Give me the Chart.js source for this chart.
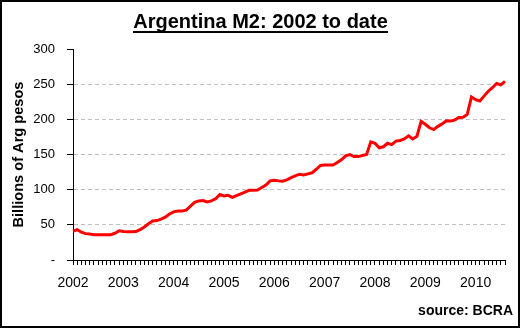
<!DOCTYPE html>
<html>
<head>
<meta charset="utf-8">
<script src="https://cdn.jsdelivr.net/npm/chart.js@4/dist/chart.umd.min.js"></script>
<style>
  html, body { margin: 0; padding: 0; background: #fff; }
  #wrap { width: 521px; height: 329px; }
</style>
</head>
<body>
<div id="wrap"><canvas id="c" width="521" height="329"></canvas></div>
<script>
// ---- data (monthly, Jan 2002 onwards), billions of Arg pesos ----
const startYear = 2002;
const m2Values = [
  41, 43, 39.5, 37.5, 37, 36, 36, 36, 36, 36, 38, 41.5,          // 2002
  40.5, 40, 40, 40.5, 43, 47, 51.5, 55.5, 56, 58, 61, 65.5,      // 2003
  68.5, 69.5, 69.5, 71, 76.5, 82, 84, 84.5, 82.5, 84, 87, 93,    // 2004
  91, 92, 89, 91.5, 94, 96.5, 99, 99, 99.5, 103, 106.5, 112.5,   // 2005
  113.5, 112.5, 112, 114, 117, 119.5, 122, 121, 122.5, 124, 129, 134.5, // 2006
  135, 135, 135, 138.5, 142.5, 148, 150, 147, 147, 148.5, 150, 168,     // 2007
  166, 159.5, 161, 166, 164, 169, 170, 172, 176.5, 172, 176, 197,       // 2008
  193, 188, 185.5, 190, 193.5, 198, 197.5, 199, 202.5, 203, 207, 232,   // 2009
  228, 226, 233, 240, 245, 251, 249, 254                                  // 2010
];
const yTickValues = [0, 50, 100, 150, 200, 250, 300];
const titleText = 'Argentina M2: 2002 to date';
const yAxisTitle = 'Billions of Arg pesos';
const sourceText = 'source: BCRA';

const monthLabels = m2Values.map((_, i) =>
  (startYear + Math.floor(i / 12)) + '-' + String(i % 12 + 1).padStart(2, '0'));

const FONT = "Arial, 'Liberation Sans', sans-serif";

const decorPlugin = {
  id: 'decor',
  afterDraw(chart) {
    const ctx = chart.ctx;
    ctx.save();
    // underline for title
    ctx.font = 'bold 20px ' + FONT;
    const w = ctx.measureText(titleText).width;
    const tb = chart.titleBlock;
    const cx = (tb.left + tb.right) / 2;
    ctx.fillStyle = '#000';
    ctx.fillRect(Math.round(cx - w / 2), 31, Math.round(w), 2);
    // source text
    ctx.font = 'bold 14px ' + FONT;
    ctx.textAlign = 'right';
    ctx.textBaseline = 'alphabetic';
    ctx.fillText(sourceText, 513, 315);
    // outer border
    ctx.strokeStyle = '#000';
    ctx.lineWidth = 2;
    ctx.strokeRect(1, 1, 518, 326);
    ctx.restore();
  }
};

new Chart(document.getElementById('c'), {
  type: 'line',
  data: {
    labels: monthLabels,
    datasets: [{
      data: m2Values,
      borderColor: '#FF0000',
      backgroundColor: '#FF0000',
      borderWidth: 3,
      pointRadius: 0,
      tension: 0,
      fill: false
    }]
  },
  options: {
    responsive: false,
    animation: false,
    devicePixelRatio: 1,
    layout: { padding: { left: 0, right: 0, top: 0, bottom: 0 } },
    plugins: {
      legend: { display: false },
      tooltip: { enabled: false },
      title: {
        display: true,
        text: titleText,
        color: '#000',
        font: { family: FONT, size: 20, weight: 'bold', lineHeight: 1.2 },
        padding: { top: 10, bottom: 15 }
      }
    },
    scales: {
      x: {
        type: 'category',
        offset: false,
        afterFit(scale) { scale.height = 69; },
        grid: {
          drawOnChartArea: false,
          drawTicks: true,
          tickLength: 5,
          tickColor: '#000',
          color: '#000',
          offset: false
        },
        border: { display: true, color: '#000', width: 1 },
        ticks: {
          autoSkip: false,
          maxRotation: 0,
          minRotation: 0,
          padding: 10,
          color: '#000',
          font: { family: FONT, size: 14 },
          callback(value) {
            const lab = this.getLabelForValue(value);
            return lab.endsWith('-01') ? lab.slice(0, 4) : '';
          }
        }
      },
      y: {
        min: 0,
        max: 300,
        afterFit(scale) { scale.width = 73; },
        afterBuildTicks(scale) { scale.ticks = yTickValues.map(v => ({ value: v })); },
        grid: {
          drawTicks: true,
          tickLength: 6,
          tickColor: '#000',
          color(ctx) {
            const v = ctx.tick && ctx.tick.value;
            return (v === 0 || v === 300) ? 'rgba(0,0,0,0)' : '#C0C0C0';
          }
        },
        border: { display: true, color: '#000', width: 1, dash: [4, 3] },
        ticks: {
          padding: 12,
          color: '#000',
          font: { family: FONT, size: 13 },
          callback(value) { return value === 0 ? '-' : String(value); }
        },
        title: {
          display: true,
          text: yAxisTitle,
          color: '#000',
          font: { family: FONT, size: 14.6, weight: 'bold', lineHeight: 1.2 },
          padding: { top: 10, bottom: 0 }
        }
      },
      rightGap: {
        type: 'linear',
        position: 'right',
        display: true,
        afterFit(scale) { scale.width = 16; },
        grid: { display: false, drawTicks: false },
        border: { display: false },
        ticks: { display: false },
        title: { display: false }
      }
    }
  },
  plugins: [decorPlugin]
});
</script>
</body>
</html>
